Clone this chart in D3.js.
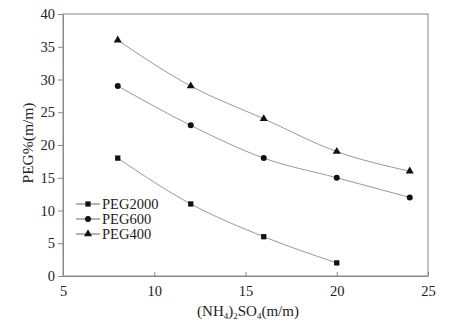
<!DOCTYPE html>
<html><head><meta charset="utf-8">
<script src="https://cdn.jsdelivr.net/npm/d3@7"></script>
<style>body{margin:0;background:#fff}svg{display:block}text{font-family:"Liberation Serif","Times New Roman",serif;fill:#222}</style>
</head><body><svg id="c" width="467" height="327"></svg>
<script>
const xValues = [8, 12, 16, 20, 24];
const peg2000 = [18, 11, 6, 2];
const peg600 = [29, 23, 18, 15, 12];
const peg400 = [36, 29, 24, 19, 16];
const seriesNames = ["PEG2000", "PEG600", "PEG400"];
const xTicks = [5, 10, 15, 20, 25];
const yTicks = [0, 5, 10, 15, 20, 25, 30, 35, 40];

const svg = d3.select("#c");
const L = 63, R = 428, T = 14, B = 276;
const x = d3.scaleLinear().domain([5, 25]).range([L, R]);
const y = d3.scaleLinear().domain([0, 40]).range([B, T]);
const axisColor = "#888";

// frame
svg.append("rect").attr("x", L).attr("y", T).attr("width", R - L).attr("height", B - T)
  .attr("fill", "none").attr("stroke", axisColor).attr("stroke-width", 1);

const xa = svg.append("g").attr("transform", `translate(0,${B})`)
  .call(d3.axisBottom(x).tickValues(xTicks).tickSizeInner(-4).tickSizeOuter(0).tickPadding(10));
const ya = svg.append("g").attr("transform", `translate(${L},0)`)
  .call(d3.axisLeft(y).tickValues(yTicks).tickSizeInner(5).tickSizeOuter(0).tickPadding(3));
[xa, ya].forEach(a => {
  a.select(".domain").attr("stroke", axisColor);
  a.selectAll(".tick line").attr("stroke", axisColor);
  a.selectAll(".tick text").style("font-size", "14.5px").attr("fill", "#222")
    .style("font-family", '"Liberation Serif",serif');
});

const data = [
  {name: seriesNames[0], vals: peg2000, sym: d3.symbolSquare, size: 28},
  {name: seriesNames[1], vals: peg600, sym: d3.symbolCircle, size: 28},
  {name: seriesNames[2], vals: peg400, sym: d3.symbolTriangle, size: 28}
];
const line = d3.line().x(d => x(d[0])).y(d => y(d[1])).curve(d3.curveMonotoneX);
data.forEach(s => {
  const pts = s.vals.map((v, i) => [xValues[i], v]);
  svg.append("path").attr("d", line(pts)).attr("fill", "none").attr("stroke", "#999").attr("stroke-width", 1);
  svg.selectAll(null).data(pts).enter().append("path")
    .attr("d", d3.symbol().type(s.sym).size(s.size))
    .attr("transform", d => `translate(${x(d[0])},${y(d[1])})`)
    .attr("fill", "#111");
});

// legend
const lg = svg.append("g");
data.forEach((s, i) => {
  const yy = 204 + i * 15;
  lg.append("line").attr("x1", 76).attr("x2", 100).attr("y1", yy).attr("y2", yy).attr("stroke", "#666");
  lg.append("path").attr("d", d3.symbol().type(s.sym).size(s.size)).attr("transform", `translate(88,${yy})`).attr("fill", "#111");
  lg.append("text").attr("x", 102).attr("y", yy + 5).style("font-size", "14.5px").text(s.name);
});

// axis titles
const xt = svg.append("text").attr("x", 248).attr("y", 316).attr("text-anchor", "middle").style("font-size", "15px");
xt.append("tspan").text("(NH");
xt.append("tspan").text("4").style("font-size", "9px").attr("dy", 3);
xt.append("tspan").text(")").attr("dy", -3);
xt.append("tspan").text("2").style("font-size", "9px").attr("dy", 3);
xt.append("tspan").text("SO").attr("dy", -3);
xt.append("tspan").text("4").style("font-size", "9px").attr("dy", 3);
xt.append("tspan").text("(m/m)").attr("dy", -3);

svg.append("text").attr("transform", "translate(33,143) rotate(-90)").attr("text-anchor", "middle")
  .style("font-size", "15.5px").text("PEG%(m/m)");
</script></body></html>
